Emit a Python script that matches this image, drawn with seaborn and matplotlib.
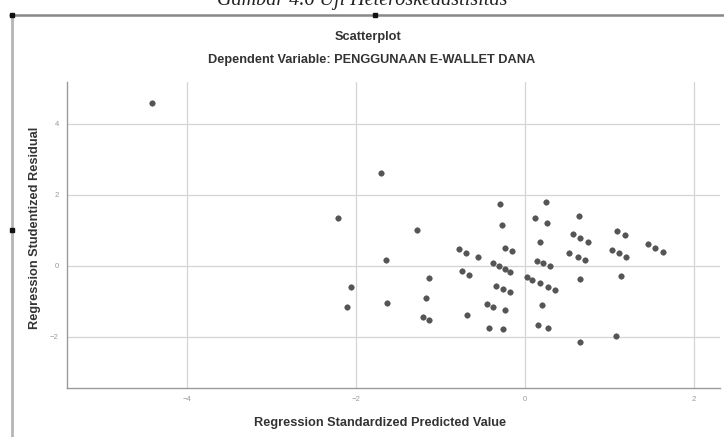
import matplotlib
matplotlib.use('Agg')
import matplotlib.pyplot as plt
from matplotlib.lines import Line2D
import seaborn as sns

pred = [-4.41, -1.70, -2.21, -1.28, -1.64, -2.06, -2.11, -1.63, -1.13, -1.17,
        -1.21, -1.13, -0.78, -0.70, -0.55, -0.75, -0.66, -0.68, -0.45, -0.38,
        -0.43, -0.26, -0.24, -0.30, -0.27, -0.23, -0.15, -0.38, -0.31, -0.24,
        -0.17, -0.34, -0.26, -0.18, 0.25, 0.12, 0.26, 0.18, 0.14, 0.21,
        0.30, 0.02, 0.09, 0.18, 0.27, 0.36, 0.20, 0.15, 0.27, 0.64,
        0.57, 0.65, 0.75, 0.52, 0.63, 0.71, 0.65, 0.65, 1.09, 1.19,
        1.46, 1.54, 1.64, 1.03, 1.12, 1.20, 1.14, 1.08]
resid = [4.59, 2.62, 1.35, 1.01, 0.17, -0.59, -1.15, -1.04, -0.34, -0.90,
         -1.44, -1.52, 0.48, 0.37, 0.25, -0.14, -0.25, -1.38, -1.07, -1.15,
         -1.75, -1.77, -1.24, 1.75, 1.15, 0.51, 0.42, 0.08, 0.00, -0.08,
         -0.17, -0.56, -0.65, -0.73, 1.80, 1.35, 1.21, 0.68, 0.14, 0.08,
         0.00, -0.31, -0.39, -0.48, -0.59, -0.68, -1.10, -1.66, -1.75, 1.41,
         0.90, 0.79, 0.68, 0.37, 0.25, 0.17, -0.37, -2.14, 0.99, 0.87,
         0.62, 0.51, 0.39, 0.45, 0.37, 0.25, -0.28, -1.97]

x_ticks = [-4, -2, 0, 2]
y_ticks = [-2, 0, 2, 4]

sns.set_style('white')
plt.rcParams['font.family'] = ['Liberation Sans', 'DejaVu Sans']

W, H = 724, 437
fig = plt.figure(figsize=(W / 100, H / 100), dpi=100)
ax = fig.add_axes([67 / W, 1 - 388 / H, (720 - 67) / W, (388 - 82) / H])

sns.scatterplot(x=pred, y=resid, ax=ax, color='#555555', s=16,
                edgecolor='#444444', linewidth=0.3, zorder=3)

ax.set_xlim(-5.42, 2.31)
ax.set_ylim(-3.44, 5.18)
ax.set_xticks(x_ticks)
ax.set_yticks(y_ticks)
ax.grid(True, color='#d4d4d4', linewidth=0.9)
ax.tick_params(length=0, labelsize=5.5, labelcolor='#999999', pad=6)
for side in ['top', 'right']:
    ax.spines[side].set_visible(False)
for side in ['left', 'bottom']:
    ax.spines[side].set_color('#9a9a9a')
    ax.spines[side].set_linewidth(1.0)

# titles, as in the SPSS output
fs = 9.2
fig.text(368 / W, 1 - 37 / H, 'Scatterplot', ha='center', va='center',
         fontsize=fs, fontweight='bold', color='#333333')
fig.text(372 / W, 1 - 60 / H, 'Dependent Variable: PENGGUNAAN E-WALLET DANA',
         ha='center', va='center', fontsize=fs, fontweight='bold', color='#333333')
fig.text(380 / W, 1 - 423 / H, 'Regression Standardized Predicted Value',
         ha='center', va='center', fontsize=fs, fontweight='bold', color='#333333')
fig.text(35 / W, 1 - 228 / H, 'Regression Studentized Residual', rotation=90,
         ha='center', va='center', fontsize=fs, fontweight='bold', color='#333333')

# cut-off caption and document frame around the pasted picture
fig.text(362 / W, 1 - 1 / H, 'Gambar 4.6 Uji Heteroskedastisitas', ha='center',
         va='center', fontsize=14.5, style='italic', family='Liberation Serif',
         color='#222222')
fig.add_artist(Line2D([10 / W, 1], [1 - 15 / H, 1 - 15 / H], color='#888888',
                      linewidth=1.8, transform=fig.transFigure))
fig.add_artist(Line2D([12 / W, 12 / W], [1 - 15 / H, 0], color='#b5b5b5',
                      linewidth=2.0, transform=fig.transFigure))
fig.add_artist(Line2D([12 / W, 375 / W, 12 / W], [1 - 15 / H, 1 - 15 / H, 1 - 230 / H],
                      linestyle='none', marker='s', markersize=2.5, color='#111111',
                      transform=fig.transFigure))

fig.savefig('out.png', dpi=100)
